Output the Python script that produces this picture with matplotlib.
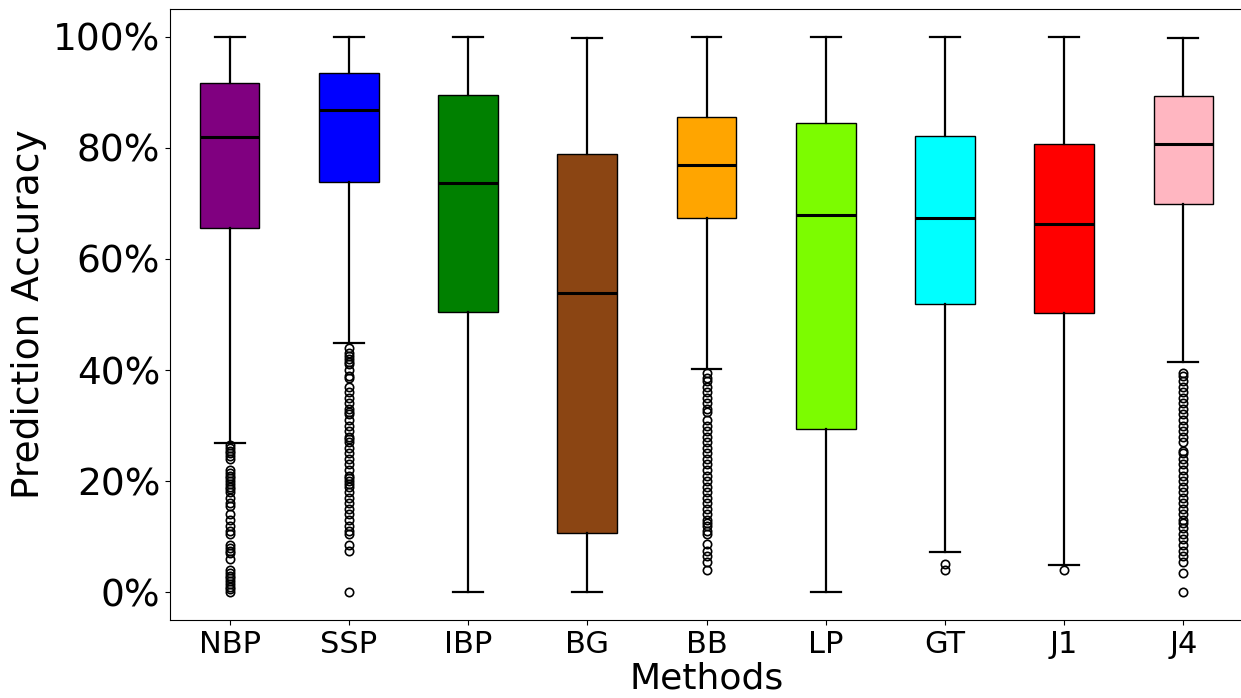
import matplotlib
matplotlib.use("Agg")
import matplotlib.pyplot as plt
from matplotlib.ticker import PercentFormatter

methods = ["NBP", "SSP", "IBP", "BG", "BB", "LP", "GT", "J1", "J4"]
colors = ["purple", "blue", "green", "#8B4513", "orange", "#7CFC00", "cyan", "red", "#FFB6C1"]

# resumen de cada caja (en %)
whis_lo = [26.8, 44.9, 0.0, 0.0, 40.2, 0.0, 7.2, 4.9, 41.4]
q1 = [65.6, 73.9, 50.5, 10.6, 67.4, 29.4, 51.9, 50.3, 69.9]
med = [82.0, 86.8, 73.7, 53.9, 76.9, 67.9, 67.4, 66.3, 80.7]
q3 = [91.7, 93.5, 89.5, 78.9, 85.6, 84.5, 82.2, 80.7, 89.4]
whis_hi = [100.0, 100.0, 100.0, 99.8, 100.0, 100.0, 100.0, 100.0, 99.8]

fliers_nbp = [26.5, 26, 25.5, 25, 24.5, 24, 22, 21.5, 21, 20.5, 20, 19.5, 19, 18.5, 18, 17,
              16, 15.5, 14, 13, 12, 11, 10.5, 8.5, 8, 7.5, 7, 6, 4, 3.5, 3, 2.5, 2, 1.5, 1, 0.5, 0]
fliers_ssp = [43.9, 43, 42.5, 42, 41.5, 41, 40, 39, 38.5, 37, 36, 35, 34, 33, 32.5, 32, 31, 30,
              29, 28, 27.5, 27, 26, 25, 24, 23, 22, 21, 20.5, 20, 19.5, 19, 18, 17, 16, 15, 14,
              13, 12, 11, 10.5, 8.5, 7.5, 0]
fliers_bb = [39.4, 38.5, 38, 37, 36, 35, 34, 33, 32.5, 31, 30, 29, 28, 27, 26, 25, 24, 23, 22,
             21, 20, 19, 18, 17, 16, 15, 14, 13, 12.5, 12, 11, 10.5, 8.7, 7.5, 6.5, 5.5, 4]
fliers_gt = [5.0, 4.0]
fliers_j1 = [4.0]
fliers_j4 = [39.5, 39, 38, 37, 36, 35, 34, 33, 32, 31, 30, 29, 28, 27, 25.5, 25, 24, 23, 22, 21,
             20, 19, 18, 17, 16, 15, 14, 13, 12.5, 11.5, 10.5, 9.5, 8.5, 7.5, 6.5, 5.5, 3.4, 0]
fliers = [fliers_nbp, fliers_ssp, [], [], fliers_bb, [], fliers_gt, fliers_j1, fliers_j4]

stats = []
for i, m in enumerate(methods):
    stats.append({"label": m, "whislo": whis_lo[i], "q1": q1[i], "med": med[i],
                  "q3": q3[i], "whishi": whis_hi[i], "fliers": fliers[i]})

fig = plt.figure(figsize=(12.41, 6.98), dpi=100)
ax = fig.add_axes([170 / 1241, 78 / 698, 1073 / 1241, 611 / 698])

bp = ax.bxp(stats, widths=0.5, patch_artist=True,
            boxprops=dict(edgecolor="black", linewidth=1),
            medianprops=dict(color="black", linewidth=2.2),
            whiskerprops=dict(color="black", linewidth=1.6),
            capprops=dict(color="black", linewidth=1.6),
            flierprops=dict(marker="o", markerfacecolor="none", markeredgecolor="black",
                            markersize=6, markeredgewidth=1.2))
for box, c in zip(bp["boxes"], colors):
    box.set_facecolor(c)

ax.set_xlim(0.5, 9.5)
ax.set_ylim(-5, 105)
ax.set_yticks([0, 20, 40, 60, 80, 100])
ax.yaxis.set_major_formatter(PercentFormatter(decimals=0))
ax.tick_params(axis="y", labelsize=27)
ax.tick_params(axis="x", labelsize=22)
ax.set_xlabel("Methods", fontsize=26, labelpad=2)
ax.set_ylabel("Prediction Accuracy", fontsize=27, labelpad=4)

fig.savefig("out.png", dpi=100)
